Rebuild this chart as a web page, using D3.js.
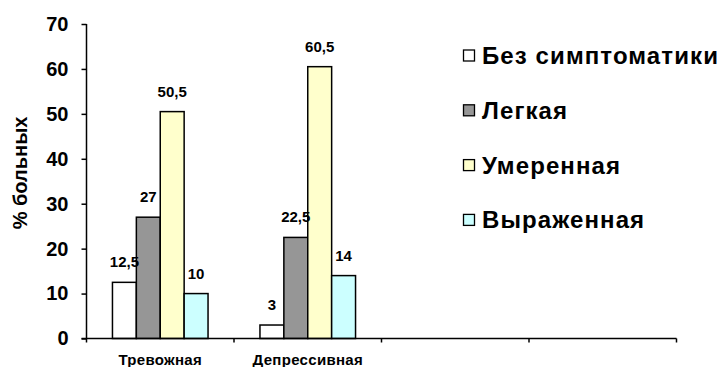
<!DOCTYPE html>
<html><head><meta charset="utf-8">
<script src="https://cdn.jsdelivr.net/npm/d3@7"></script>
<style>body{margin:0;background:#fff}svg{display:block}text{font-family:Arial,"Liberation Sans",sans-serif;font-weight:bold}</style>
</head><body>
<script>
const categories = ["Тревожная", "Депрессивная", "", " "];
const seriesNames = ["Без симптоматики", "Легкая", "Умеренная", "Выраженная"];
const seriesColors = ["#FFFFFF", "#969696", "#FFFFCC", "#CCFFFF"];
const valuesAnxiety = [12.5, 27, 50.5, 10];
const valuesDepression = [3, 22.5, 60.5, 14];
const yTicks = [0, 10, 20, 30, 40, 50, 60, 70];
const groupValues = [valuesAnxiety, valuesDepression];

const W = 724, H = 367;
const svg = d3.select("body").append("svg").attr("width", W).attr("height", H);
const plotL = 86.5, plotR = 676.5, plotT = 24, plotB = 338.5;

const x0 = d3.scaleBand().domain(categories).range([plotL, plotR]).padding(0);
const bw = x0.bandwidth();
const groupW = bw * 0.648;
const x1 = d3.scaleBand().domain(d3.range(4)).range([(bw-groupW)/2, (bw+groupW)/2]).padding(0);
const y = d3.scaleLinear().domain([0, 70]).range([plotB, plotT]);

// bars
groupValues.forEach((vals, gi) => {
  const g = svg.append("g").attr("transform", `translate(${x0(categories[gi])},0)`);
  g.selectAll("rect").data(vals).join("rect")
    .attr("x", (d, i) => x1(i))
    .attr("y", d => y(d))
    .attr("width", x1.bandwidth())
    .attr("height", d => plotB - y(d))
    .attr("fill", (d, i) => seriesColors[i])
    .attr("stroke", "#000").attr("stroke-width", 1.5);
  g.selectAll("text.val").data(vals).join("text").attr("class", "val")
    .attr("x", (d, i) => x1(i) + x1.bandwidth()/2)
    .attr("y", d => y(d) - 15)
    .attr("text-anchor", "middle")
    .attr("font-size", 15)
    .text(d => String(d).replace(".", ","));
});

// y axis
const yAxis = d3.axisLeft(y).tickValues(yTicks).tickSize(5).tickPadding(13);
const ya = svg.append("g").attr("transform", `translate(${plotL},0)`).call(yAxis);
ya.select(".domain").attr("stroke", "#000").attr("stroke-width", 1.5).attr("d", `M0,${plotT}V${plotB}`);
ya.selectAll(".tick line").attr("stroke", "#000").attr("stroke-width", 1.5);
ya.selectAll(".tick text").attr("font-size", 20).attr("font-family", "Arial, 'Liberation Sans', sans-serif").attr("font-weight", "bold").attr("fill", "#000");

// x axis
const xa = svg.append("g").attr("transform", `translate(0,${plotB})`);
xa.append("line").attr("x1", plotL - 5).attr("x2", plotR).attr("y1", 0).attr("y2", 0).attr("stroke", "#000").attr("stroke-width", 1.5);
const bounds = categories.map(c => x0(c)).concat([plotR]);
xa.selectAll("line.tk").data(bounds).join("line").attr("class", "tk")
  .attr("x1", d => d).attr("x2", d => d).attr("y1", 0).attr("y2", 4)
  .attr("stroke", "#000").attr("stroke-width", 1.5);
xa.selectAll("text.cat").data(categories).join("text").attr("class", "cat")
  .attr("x", d => x0(d) + bw/2).attr("y", 26.5)
  .attr("text-anchor", "middle").attr("font-size", 15).attr("letter-spacing", 0.3)
  .text(d => d.trim());

// y title
svg.append("text").attr("transform", "translate(27,173) rotate(-90)")
  .attr("text-anchor", "middle").attr("font-size", 20).text("% больных");

// legend
const leg = svg.append("g");
seriesNames.forEach((n, i) => {
  const cy = 55.5 + i * 54.8;
  leg.append("rect").attr("x", 463.5).attr("y", cy - 5.5).attr("width", 11).attr("height", 11)
    .attr("fill", seriesColors[i]).attr("stroke", "#000").attr("stroke-width", 1.3);
  leg.append("text").attr("x", 482).attr("y", cy + 8.5).attr("font-size", 24)
    .attr("letter-spacing", 1.1).text(n);
});
</script>
</body></html>
